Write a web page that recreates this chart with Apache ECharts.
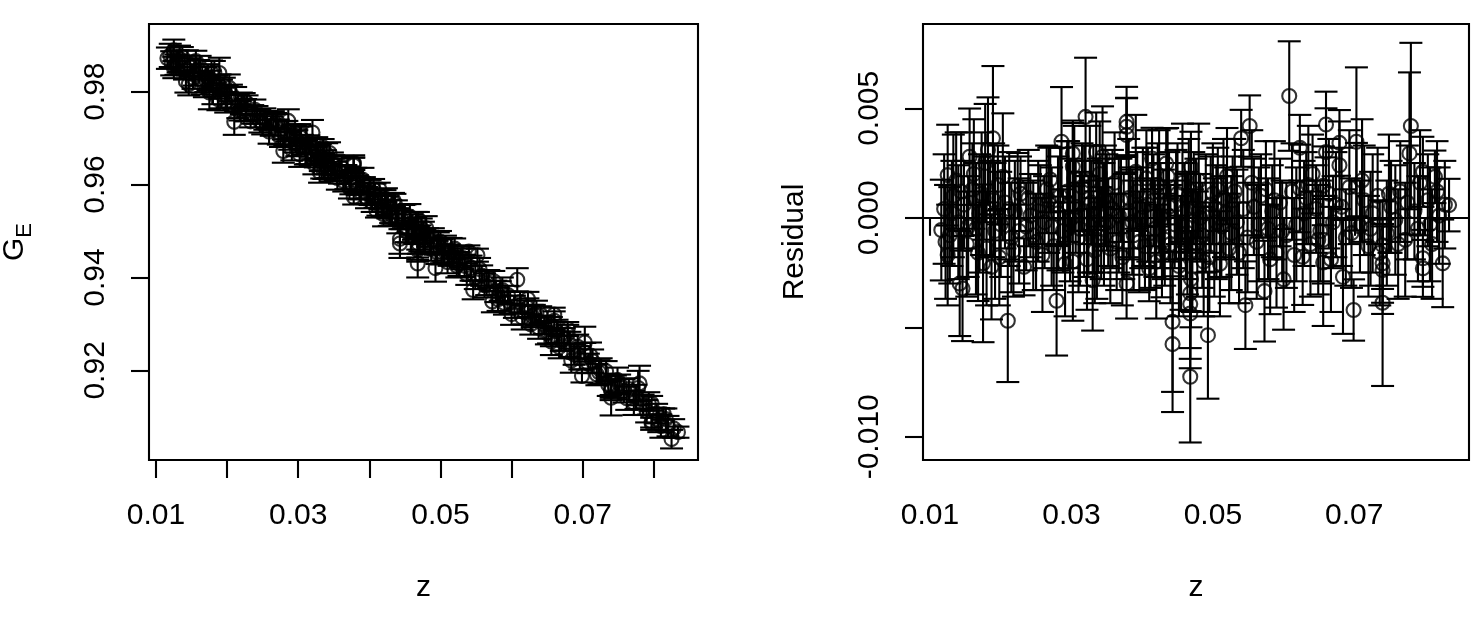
<!DOCTYPE html>
<html><head><meta charset="utf-8">
<script src="https://cdn.jsdelivr.net/npm/echarts@6/dist/echarts.min.js"></script>
<style>html,body{margin:0;padding:0;background:#fff}#c{width:1482px;height:626px}</style>
</head><body><div id="c"></div>
<script>
// ---- data ----
const z = [0.0116,0.0120,0.0125,0.0125,0.0128,0.0133,0.0137,0.0140,0.0142,0.0146,0.0148,0.0152,0.0156,0.0160,0.0165,0.0170,0.0175,0.0176,0.0180,0.0182,
0.0185,0.0187,0.0189,0.0192,0.0196,0.0200,0.0203,0.0206,0.0210,0.0215,0.0220,0.0224,0.0228,0.0233,0.0236,0.0242,0.0250,0.0256,0.0262,0.0268,
0.0270,0.0275,0.0279,0.0281,0.0286,0.0288,0.0294,0.0298,0.0302,0.0302,0.0302,0.0306,0.0310,0.0315,0.0320,0.0324,0.0328,0.0330,0.0333,0.0335,
0.0338,0.0342,0.0344,0.0348,0.0352,0.0358,0.0364,0.0370,0.0374,0.0378,0.0378,0.0378,0.0378,0.0383,0.0388,0.0393,0.0398,0.0404,0.0408,0.0410,
0.0414,0.0418,0.0422,0.0426,0.0428,0.0432,0.0434,0.0438,0.0443,0.0443,0.0446,0.0450,0.0455,0.0460,0.0464,0.0468,0.0468,0.0468,0.0468,0.0469,
0.0469,0.0473,0.0478,0.0482,0.0487,0.0493,0.0497,0.0502,0.0507,0.0512,0.0518,0.0523,0.0528,0.0534,0.0540,0.0546,0.0552,0.0558,0.0562,0.0568,
0.0573,0.0578,0.0584,0.0590,0.0595,0.0600,0.0604,0.0608,0.0612,0.0618,0.0623,0.0623,0.0627,0.0632,0.0638,0.0641,0.0646,0.0652,0.0656,0.0656,
0.0656,0.0660,0.0660,0.0664,0.0670,0.0674,0.0679,0.0679,0.0684,0.0688,0.0693,0.0699,0.0703,0.0703,0.0708,0.0714,0.0720,0.0726,0.0733,0.0740,
0.0740,0.0740,0.0740,0.0746,0.0752,0.0758,0.0765,0.0772,0.0778,0.0780,0.0785,0.0790,0.0797,0.0797,0.0797,0.0804,0.0810,0.0814,0.0820,0.0825,
0.0828,0.0834,
0.0122,0.0131,0.0144,0.0154,0.0162,0.0168,0.0173,0.0178,0.0190,0.0198,0.0212,0.0218,0.0226,0.0239,0.0246,0.0253,0.0259,0.0265,0.0272,0.0284,
0.0291,0.0296,0.0304,0.0312,0.0318,0.0322,0.0326,0.0331,0.0336,0.0340,0.0346,0.0350,0.0355,0.0361,0.0367,0.0372,0.0381,0.0386,0.0391,0.0396,
0.0401,0.0406,0.0412,0.0416,0.0420,0.0424,0.0430,0.0436,0.0440,0.0448,0.0452,0.0457,0.0462,0.0466,0.0471,0.0476,0.0480,0.0485,0.0490,0.0495,
0.0500,0.0505,0.0510,0.0515,0.0520,0.0526,0.0531,0.0537,0.0543,0.0549,0.0555,0.0565,0.0575,0.0581,0.0587,0.0598,0.0615,0.0629,0.0635,0.0649,
0.0667,0.0682,0.0696,0.0711,0.0723,0.0736,0.0749,0.0762,0.0775,0.0793,0.0807,0.0817];
const gE = [0.9872,0.9878,0.9889,0.9852,0.9858,0.9871,0.9874,0.9852,0.9822,0.9816,0.9852,0.9830,0.9866,0.9847,0.9824,0.9826,0.9798,0.9826,0.9799,0.9842,
0.9812,0.9784,0.9840,0.9795,0.9812,0.9790,0.9808,0.9794,0.9735,0.9768,0.9775,0.9782,0.9775,0.9736,0.9751,0.9750,0.9730,0.9740,0.9726,0.9730,
0.9737,0.9701,0.9672,0.9710,0.9737,0.9694,0.9706,0.9689,0.9715,0.9709,0.9665,0.9686,0.9668,0.9686,0.9712,0.9659,0.9665,0.9627,0.9637,0.9680,
0.9648,0.9635,0.9668,0.9646,0.9629,0.9629,0.9607,0.9620,0.9603,0.9647,0.9645,0.9641,0.9573,0.9599,0.9584,0.9598,0.9581,0.9561,0.9576,0.9544,
0.9590,0.9554,0.9569,0.9551,0.9531,0.9533,0.9566,0.9541,0.9483,0.9473,0.9524,0.9534,0.9501,0.9514,0.9500,0.9430,0.9468,0.9463,0.9459,0.9525,
0.9473,0.9506,0.9479,0.9486,0.9461,0.9420,0.9475,0.9455,0.9471,0.9448,0.9447,0.9425,0.9442,0.9425,0.9456,0.9373,0.9448,0.9404,0.9383,0.9397,
0.9348,0.9370,0.9371,0.9345,0.9362,0.9321,0.9337,0.9395,0.9347,0.9325,0.9354,0.9335,0.9299,0.9320,0.9292,0.9320,0.9298,0.9281,0.9297,0.9262,
0.9272,0.9320,0.9307,0.9284,0.9263,0.9267,0.9289,0.9278,0.9221,0.9234,0.9251,0.9188,0.9260,0.9239,0.9215,0.9220,0.9191,0.9199,0.9198,0.9156,
0.9141,0.9167,0.9159,0.9165,0.9170,0.9156,0.9160,0.9130,0.9162,0.9172,0.9126,0.9112,0.9129,0.9090,0.9085,0.9107,0.9080,0.9106,0.9080,0.9052,
0.9075,0.9067,
0.9861,0.9865,0.9862,0.9836,0.9852,0.9810,0.9831,0.9840,0.9811,0.9777,0.9784,0.9759,0.9760,0.9761,0.9737,0.9741,0.9714,0.9738,0.9713,0.9715,
0.9676,0.9698,0.9701,0.9670,0.9671,0.9645,0.9677,0.9658,0.9639,0.9665,0.9635,0.9641,0.9614,0.9638,0.9616,0.9592,0.9609,0.9592,0.9610,0.9572,
0.9583,0.9590,0.9558,0.9569,0.9536,0.9564,0.9542,0.9558,0.9522,0.9531,0.9499,0.9531,0.9505,0.9515,0.9484,0.9497,0.9506,0.9475,0.9479,0.9454,
0.9477,0.9458,0.9433,0.9458,0.9462,0.9429,0.9442,0.9407,0.9420,0.9400,0.9418,0.9388,0.9392,0.9353,0.9373,0.9346,0.9314,0.9317,0.9323,0.9281,
0.9250,0.9256,0.9227,0.9232,0.9196,0.9169,0.9179,0.9140,0.9143,0.9129,0.9093,0.9095];
const resid = [-0.00056,0.0004,0.00195,-0.0017,-0.0008,0.0010,0.0017,-0.0002,-0.0030,-0.00323,0.0006,-0.0012,0.00279,0.0013,-0.0005,0.0002,-0.00208,0.0009,-0.0014,0.0031,
0.0004,-0.00224,0.00363,-0.0006,0.0015,-0.0003,0.00187,0.0007,-0.0047,-0.0009,0.0003,0.00146,0.0011,-0.00224,-0.0004,0.0001,-0.0011,0.0006,-0.0002,0.0008,
0.00175,-0.0013,-0.00379,0.0002,0.00347,-0.0006,0.0012,-0.0001,0.00294,0.00233,-0.0020,0.0005,-0.0009,0.0014,0.00461,-0.0003,0.0007,-0.00285,-0.0015,0.00301,
0.0001,-0.0007,0.00279,0.0010,-0.0002,0.0004,-0.0011,0.0008,-0.0004,0.00438,0.00416,0.00378,-0.0030,0.0002,-0.0008,0.0012,0.0000,-0.0013,0.0006,-0.00231,
0.00271,-0.0005,0.0015,0.0001,-0.00163,-0.0010,0.00248,0.0005,-0.00475,-0.00577,-0.0003,0.0011,-0.0016,0.0003,-0.0007,-0.00726,-0.00345,-0.00394,-0.00437,0.00233,
-0.0028,0.0009,-0.0012,0.0000,-0.0020,-0.00536,0.0006,-0.0009,0.0013,-0.0004,0.0002,-0.0014,0.0008,-0.0002,0.00363,-0.00399,0.00419,0.0005,-0.0011,0.0010,
-0.00335,-0.0005,0.0003,-0.0016,0.0007,-0.00281,-0.0008,0.00556,0.0012,-0.0003,0.0032,0.00134,-0.00178,0.0009,-0.0012,0.0020,0.0004,-0.0006,0.00146,-0.00204,
-0.0010,0.00426,0.0030,0.0011,-0.0002,0.0006,0.00342,0.0024,-0.0027,-0.0009,0.0014,-0.00421,0.00347,0.00142,-0.0004,0.0008,-0.0013,0.0002,0.0010,-0.00239,
-0.00388,-0.00125,-0.00208,-0.0007,0.0005,-0.0001,0.0012,-0.0010,0.00294,0.00419,0.0003,-0.0005,0.0021,-0.00185,-0.00231,0.0008,-0.0012,0.00187,0.0001,-0.00208,
0.0006,0.00058,
-0.0011,0.0002,0.0012,-0.0004,0.0020,-0.0016,0.0011,0.0025,0.0008,-0.0018,0.0004,-0.0015,-0.0006,0.0009,-0.0008,0.0003,-0.0017,0.0013,-0.0004,0.0010,
-0.0021,0.0006,0.0018,-0.0005,0.0003,-0.0019,0.0017,0.0004,-0.0010,0.0020,-0.0003,0.0007,-0.0014,0.0016,0.0001,-0.0018,0.0009,-0.0002,0.0021,-0.0011,
0.0005,0.0018,-0.0007,0.0008,-0.0020,0.0012,-0.0003,0.0019,-0.0012,0.0006,-0.0022,0.0016,-0.0004,0.0010,-0.0015,0.0004,0.0017,-0.0008,0.0002,-0.0018,
0.0011,-0.0002,-0.0021,0.0009,0.0019,-0.0007,0.0012,-0.0016,0.0004,-0.0009,0.0016,-0.0003,0.0013,-0.0019,0.0008,-0.0006,-0.0017,0.0002,0.0015,-0.0010,
-0.0019,0.0005,-0.0007,0.0017,-0.0005,-0.0016,0.0011,-0.0012,0.0007,0.0016,-0.0003,0.0012];
const err = [0.0023,0.0025,0.0023,0.0023,0.0022,0.0028,0.0022,0.0026,0.0024,0.0024,0.0020,0.0024,0.0022,0.0021,0.0030,0.0027,0.0036,0.0019,0.0026,0.0024,
0.0022,0.0024,0.0033,0.0031,0.0018,0.0024,0.0029,0.0021,0.0028,0.0025,0.0023,0.0015,0.0017,0.0013,0.0020,0.0019,0.0022,0.0018,0.0021,0.0024,
0.0015,0.0020,0.0025,0.0026,0.0025,0.0019,0.0023,0.0028,0.0015,0.0020,0.0027,0.0021,0.0025,0.0020,0.0027,0.0022,0.0019,0.0023,0.0024,0.0018,
0.0026,0.0021,0.0023,0.0023,0.0020,0.0027,0.0022,0.0019,0.0024,0.0016,0.0013,0.0017,0.0016,0.0021,0.0025,0.0018,0.0023,0.0020,0.0026,0.0015,
0.0014,0.0022,0.0019,0.0024,0.0020,0.0021,0.0016,0.0025,0.0032,0.0031,0.0020,0.0023,0.0026,0.0022,0.0028,0.0030,0.0025,0.0025,0.0025,0.0016,
0.0022,0.0021,0.0024,0.0020,0.0025,0.0029,0.0022,0.0027,0.0019,0.0023,0.0021,0.0025,0.0020,0.0024,0.0013,0.0020,0.0014,0.0022,0.0026,0.0019,
0.0023,0.0023,0.0021,0.0025,0.0020,0.0023,0.0024,0.0025,0.0022,0.0026,0.0015,0.0020,0.0022,0.0021,0.0024,0.0018,0.0020,0.0023,0.0018,0.0029,
0.0020,0.0015,0.0020,0.0025,0.0021,0.0024,0.0015,0.0020,0.0026,0.0022,0.0026,0.0014,0.0034,0.0020,0.0021,0.0025,0.0023,0.0027,0.0022,0.0020,
0.0038,0.0020,0.0018,0.0024,0.0021,0.0025,0.0023,0.0026,0.0037,0.0038,0.0022,0.0024,0.0016,0.0013,0.0013,0.0021,0.0025,0.0012,0.0022,0.0020,
0.0020,0.0012,
0.0026,0.0024,0.0027,0.0023,0.0025,0.0022,0.0028,0.0027,0.0026,0.0022,0.0026,0.0021,0.0024,0.0022,0.0025,0.0023,0.0026,0.0020,0.0027,0.0022,
0.0024,0.0029,0.0024,0.0026,0.0030,0.0023,0.0025,0.0029,0.0027,0.0024,0.0028,0.0022,0.0025,0.0023,0.0026,0.0022,0.0027,0.0024,0.0026,0.0023,
0.0027,0.0022,0.0025,0.0021,0.0026,0.0028,0.0025,0.0022,0.0027,0.0025,0.0023,0.0027,0.0024,0.0026,0.0028,0.0023,0.0026,0.0024,0.0027,0.0025,
0.0023,0.0026,0.0024,0.0027,0.0022,0.0026,0.0024,0.0023,0.0027,0.0025,0.0024,0.0026,0.0022,0.0025,0.0027,0.0023,0.0026,0.0024,0.0027,0.0025,
0.0024,0.0027,0.0025,0.0028,0.0026,0.0024,0.0027,0.0025,0.0026,0.0024,0.0026,0.0023];
const xTicks = [0.01,0.02,0.03,0.04,0.05,0.06,0.07,0.08];
const xLabels = [0.01,0.03,0.05,0.07];
const yTicksL = [0.92,0.94,0.96,0.98];
const yLabelsL = [0.92,0.94,0.96,0.98];
const yTicksR = [-0.010,-0.005,0.000,0.005];
const yLabelsR = [-0.010,0.000,0.005];

// ---- styling ----
const FONT = 'Liberation Sans';
const FS = 30;
const LW = 2.1;
const CAP = 11.5;
const black = '#000';

function errRender(params, api) {
  const x = api.value(0), y = api.value(1), e = api.value(2);
  const hi = api.coord([x, y + e]), lo = api.coord([x, y - e]);
  const st = {stroke: black, lineWidth: LW, fill: null};
  return {type: 'group', children: [
    {type: 'line', shape: {x1: hi[0], y1: hi[1], x2: lo[0], y2: lo[1]}, style: st},
    {type: 'line', shape: {x1: hi[0] - CAP, y1: hi[1], x2: hi[0] + CAP, y2: hi[1]}, style: st},
    {type: 'line', shape: {x1: lo[0] - CAP, y1: lo[1], x2: lo[0] + CAP, y2: lo[1]}, style: st}
  ]};
}

const leftData = z.map((v, i) => [v, gE[i], err[i]]);
const rightData = z.map((v, i) => [v, resid[i], err[i]]);

function xAxisDef(gi) {
  return {
    type: 'value', gridIndex: gi, min: 0.00901, max: 0.08622,
    axisLine: {show: false}, splitLine: {show: false},
    axisTick: {show: true, length: 18, lineStyle: {color: black, width: LW}, customValues: xTicks},
    axisLabel: {show: true, customValues: xLabels, margin: 41, color: black, fontFamily: FONT, fontSize: FS, lineHeight: FS,
      formatter: v => Number(v).toFixed(2)},
    name: 'z', nameLocation: 'middle', nameGap: 113, nameMoveOverlap: false,
    nameTextStyle: {color: black, fontFamily: FONT, fontSize: FS, lineHeight: FS}
  };
}
function yAxisDef(gi, mn, mx, ticks, labels, dec, name, rich) {
  return {
    type: 'value', gridIndex: gi, min: mn, max: mx,
    axisLine: {show: false}, splitLine: {show: false},
    axisTick: {show: true, length: 18, lineStyle: {color: black, width: LW}, customValues: ticks},
    axisLabel: {show: true, customValues: labels, rotate: 90, margin: 38, color: black, fontFamily: FONT, fontSize: FS, lineHeight: FS,
      formatter: v => Number(v).toFixed(dec)},
    name: name, nameLocation: 'middle', nameRotate: 90, nameGap: 113, nameMoveOverlap: false,
    nameTextStyle: Object.assign({color: black, fontFamily: FONT, fontSize: FS, lineHeight: FS}, rich ? {rich: rich} : {})
  };
}

const chart = echarts.init(document.getElementById('c'), null, {renderer: 'canvas'});
chart.setOption({
  animation: false,
  backgroundColor: '#fff',
  grid: [
    {left: 149, top: 24, width: 549, height: 436, show: true, borderColor: black, borderWidth: LW, backgroundColor: 'transparent', containLabel: false, outerBoundsMode: 'none'},
    {left: 923, top: 24, width: 546, height: 436, show: true, borderColor: black, borderWidth: LW, backgroundColor: 'transparent', containLabel: false, outerBoundsMode: 'none'}
  ],
  xAxis: [xAxisDef(0), xAxisDef(1)],
  yAxis: [
    yAxisDef(0, 0.90071, 0.99456, yTicksL, yLabelsL, 2, '{a|G}{b|E}', {
      a: {fontFamily: FONT, fontSize: FS, color: black, lineHeight: 36, verticalAlign: 'top'},
      b: {fontFamily: FONT, fontSize: 22, color: black, lineHeight: 22, padding: [15, 0, 0, 0], verticalAlign: 'bottom'}
    }),
    yAxisDef(1, -0.01106, 0.00885, yTicksR, yLabelsR, 3, 'Residual', null)
  ],
  series: [
    {type: 'custom', xAxisIndex: 0, yAxisIndex: 0, data: leftData, renderItem: errRender, encode: {x: 0, y: 1}, silent: true, clip: true},
    {type: 'scatter', xAxisIndex: 0, yAxisIndex: 0, data: leftData, symbol: 'circle', symbolSize: 14,
      itemStyle: {color: 'rgba(0,0,0,0)', borderColor: black, borderWidth: LW}, silent: true, emphasis: {disabled: true}},
    {type: 'custom', xAxisIndex: 1, yAxisIndex: 1, data: rightData, renderItem: errRender, encode: {x: 0, y: 1}, silent: true, clip: true},
    {type: 'scatter', xAxisIndex: 1, yAxisIndex: 1, data: rightData, symbol: 'circle', symbolSize: 14,
      itemStyle: {color: 'rgba(0,0,0,0)', borderColor: black, borderWidth: LW}, silent: true, emphasis: {disabled: true},
      markLine: {silent: true, symbol: ['none', 'none'], label: {show: false}, lineStyle: {color: black, width: LW, type: 'solid'},
        data: [{yAxis: 0}], animation: false}}
  ]
});
</script>
</body></html>
